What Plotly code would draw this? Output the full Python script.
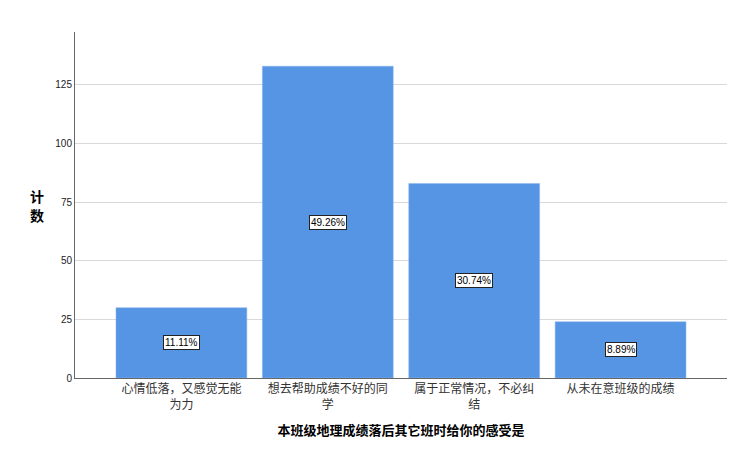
import plotly.graph_objects as go

# data
categories = ["心情低落，又感觉无能<br>为力", "想去帮助成绩不好的同<br>学",
              "属于正常情况，不必纠<br>结", "从未在意班级的成绩"]
counts = [30, 133, 83, 24]
percent_labels = ["11.11%", "49.26%", "30.74%", "8.89%"]
y_ticks = [0, 25, 50, 75, 100, 125]

fig = go.Figure(go.Bar(
    x=list(range(len(categories))),
    y=counts,
    width=0.894,
    marker=dict(color="#5595E3", line=dict(color="#8FB7EC", width=0.5)),
    hoverinfo="skip",
))

# boxed percent labels in the middle of each bar
for i, (c, p) in enumerate(zip(counts, percent_labels)):
    fig.add_annotation(x=i, y=c / 2, text=p, showarrow=False,
                       font=dict(family="Arial, Liberation Sans", size=10, color="black"),
                       bgcolor="white", bordercolor="#222222", borderwidth=1, borderpad=1)

# y title written as two stacked characters, like the original
for ch, yy in zip(["计", "数"], [0.527, 0.472]):
    fig.add_annotation(xref="paper", yref="paper", x=-0.058, y=yy, text="<b>" + ch + "</b>",
                       showarrow=False, xanchor="center", yanchor="middle", borderpad=0,
                       font=dict(family="Noto Sans CJK SC", size=14, color="black"))

fig.update_layout(
    width=738, height=449,
    margin=dict(l=67, r=19, t=24, b=79),
    plot_bgcolor="white", paper_bgcolor="white",
    showlegend=False,
    xaxis=dict(
        range=[-0.727, 3.727],
        tickvals=list(range(len(categories))),
        ticktext=categories,
        tickfont=dict(family="Noto Sans CJK SC", size=12, color="#333333"),
        showline=True, linecolor="#666666", linewidth=1,
        showgrid=False, ticks="", zeroline=False,
        title=dict(text="<b>本班级地理成绩落后其它班时给你的感受是</b>",
                   font=dict(family="Noto Sans CJK SC", size=13, color="black"),
                   standoff=14),
    ),
    yaxis=dict(
        range=[0, 147.6],
        tickvals=y_ticks,
        tickfont=dict(family="Arial, Liberation Sans", size=10, color="#222222"),
        showline=True, linecolor="#666666", linewidth=1,
        showgrid=True, gridcolor="#D9D9D9", gridwidth=1,
        ticks="", zeroline=False,
    ),
)

fig.write_html("out.html")
